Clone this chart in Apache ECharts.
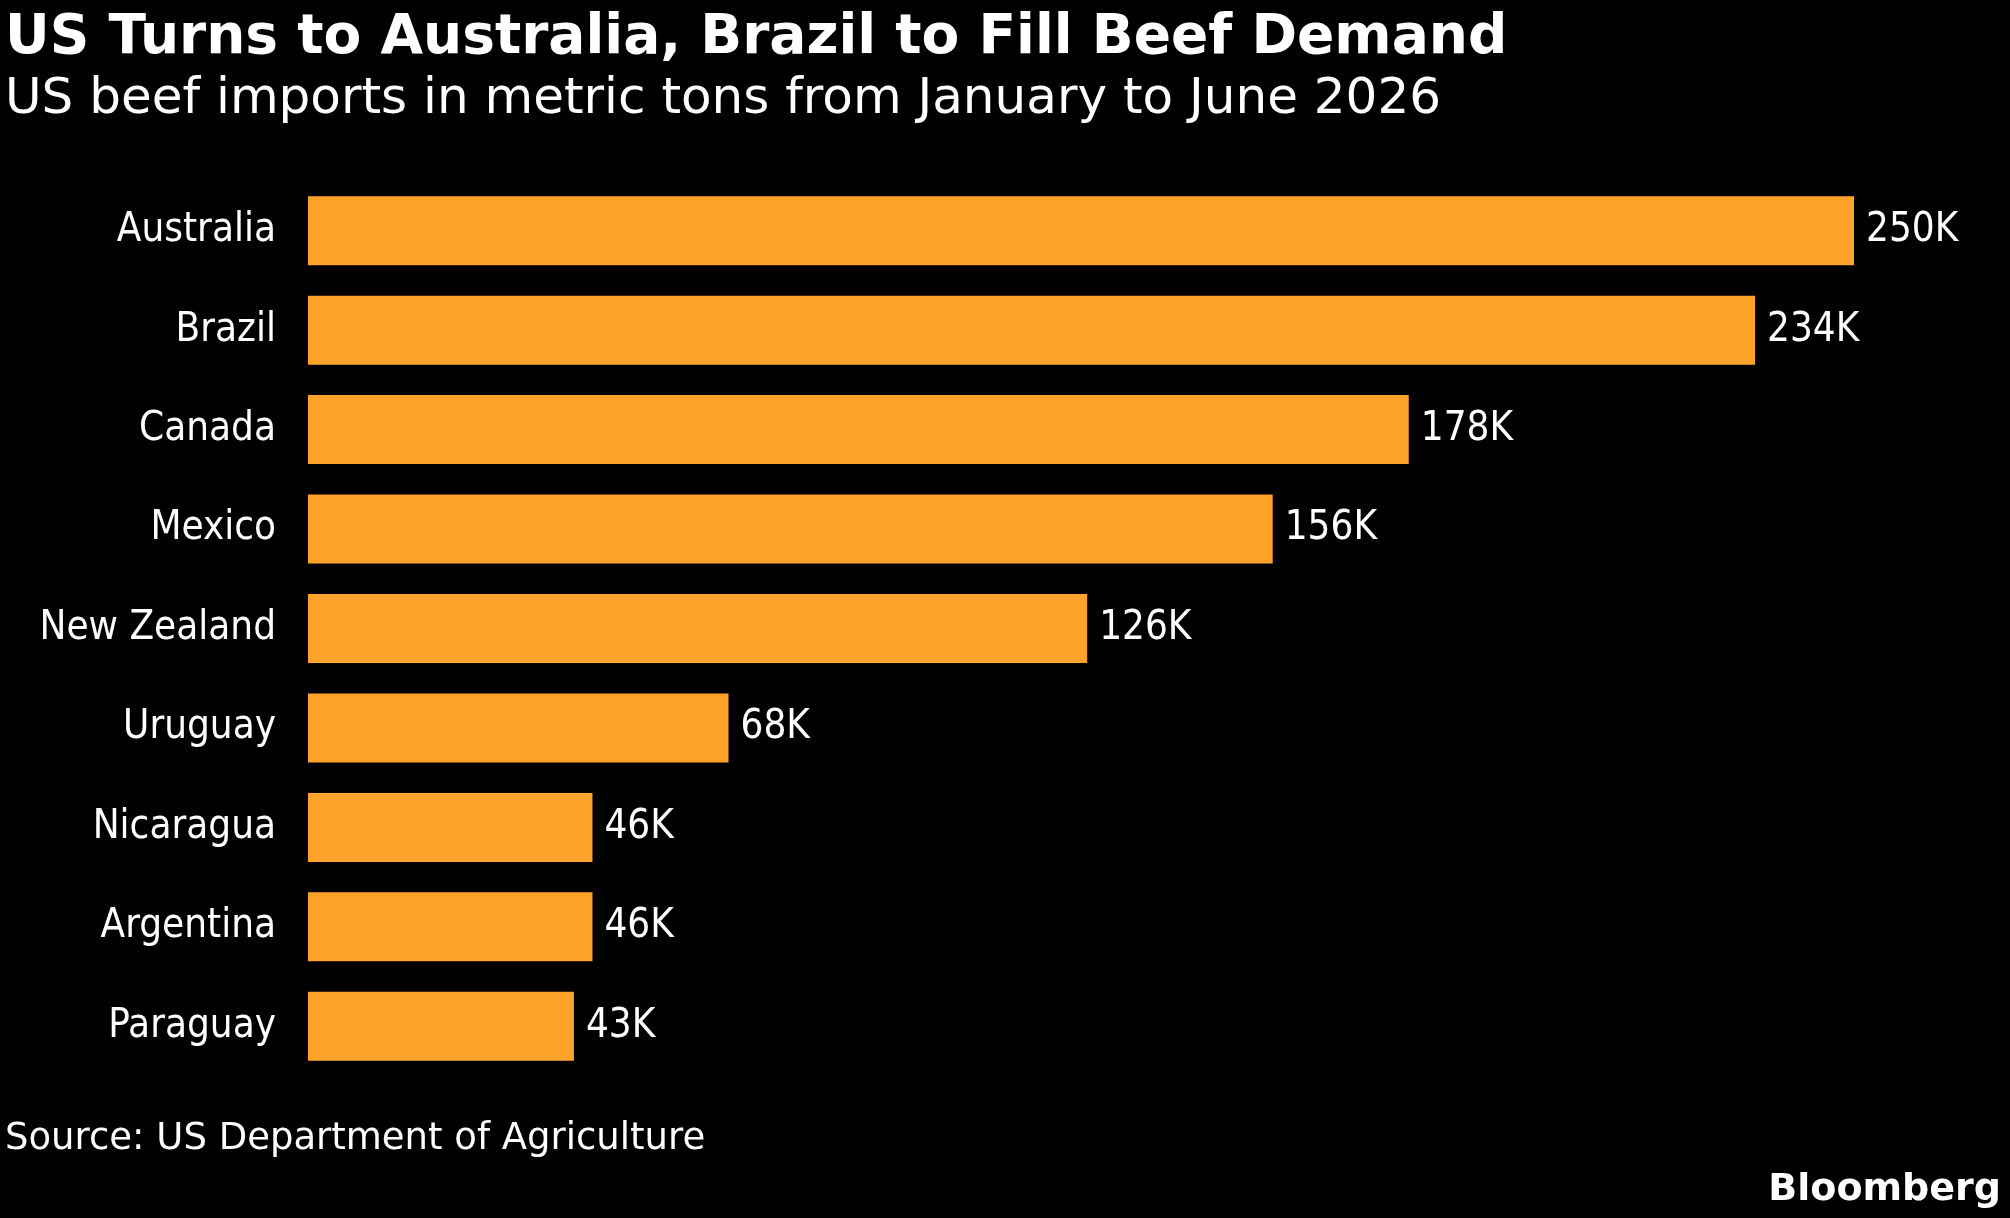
<!DOCTYPE html>
<html>
<head>
<meta charset="utf-8">
<script src="https://cdn.jsdelivr.net/npm/echarts@6/dist/echarts.min.js"></script>
<style>
html,body{margin:0;padding:0;background:#000;}
#chart{width:2010px;height:1218px;}
</style>
</head>
<body>
<div id="chart"></div>
<script>
var countries = ['Australia', 'Brazil', 'Canada', 'Mexico', 'New Zealand', 'Uruguay', 'Nicaragua', 'Argentina', 'Paraguay'];
var imports = [250, 234, 178, 156, 126, 68, 46, 46, 43];

var font = '"DejaVu Sans Condensed", sans-serif';
var chart = echarts.init(document.getElementById('chart'));
var option = {
    backgroundColor: '#000',
    animation: false,
    title: [{
        text: 'US Turns to Australia, Brazil to Fill Beef Demand',
        left: 0, top: 6,
        textStyle: { color: '#fff', fontSize: 55, fontWeight: 'bold', fontFamily: 'DejaVu Sans' }
    }, {
        text: 'US beef imports in metric tons from January to June 2026',
        left: 0, top: 70,
        textStyle: { color: '#fff', fontSize: 50, fontWeight: 'normal', fontFamily: 'DejaVu Sans' }
    }, {
        text: 'Source: US Department of Agriculture',
        left: 0, top: 1116,
        textStyle: { color: '#fff', fontSize: 37, fontWeight: 'normal', fontFamily: 'DejaVu Sans' }
    }, {
        text: 'Bloomberg',
        right: 4, top: 1166,
        textStyle: { color: '#fff', fontSize: 38, fontWeight: 'bold', fontFamily: 'DejaVu Sans' }
    }],
    grid: { left: 308, right: 156, top: 181, bottom: 142 },
    xAxis: { type: 'value', min: 0, max: 250, show: false },
    yAxis: {
        type: 'category',
        data: countries,
        inverse: true,
        axisLine: { show: false },
        axisTick: { show: false },
        axisLabel: { color: '#fff', fontSize: 40, fontFamily: font, margin: 32 }
    },
    series: [{
        type: 'bar',
        data: imports,
        barWidth: 69,
        itemStyle: { color: '#ffa22a' },
        label: {
            show: true,
            position: 'right',
            distance: 12,
            color: '#fff',
            fontSize: 40,
            fontFamily: font,
            formatter: function (p) { return p.value + 'K'; }
        }
    }]
};
chart.setOption(option);
</script>
</body>
</html>
